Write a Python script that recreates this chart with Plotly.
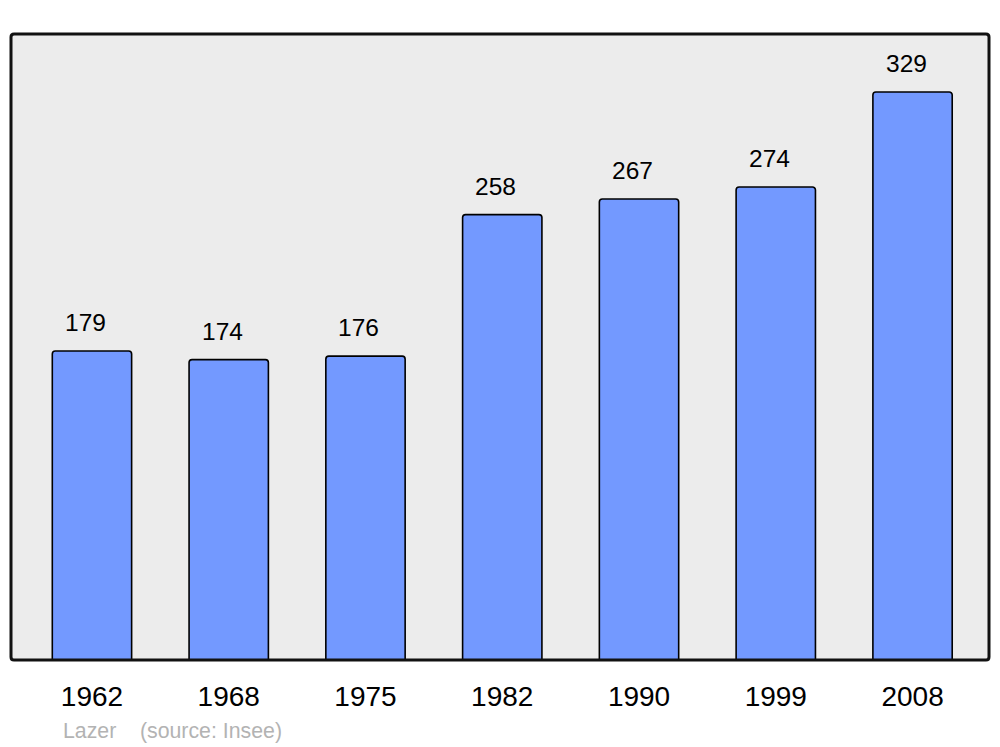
import plotly.graph_objects as go

years = ["1962", "1968", "1975", "1982", "1990", "1999", "2008"]
population = [179, 174, 176, 258, 267, 274, 329]

W, H = 1000, 747
L, R, T, B = 11, 11, 34, 87
pw, ph = W - L - R, H - T - B

fig = go.Figure()
fig.add_trace(go.Bar(
    x=years, y=population,
    width=0.58,
    marker=dict(color="#7399ff", line=dict(color="#000000", width=1.6), cornerradius=3),
    hoverinfo="skip",
))

for i, v in enumerate(population):
    fig.add_annotation(x=i, y=v, text=str(v), showarrow=False,
                       xref="x", yref="y",
                       yanchor="bottom", yshift=13, xshift=-6.5,
                       font=dict(family="Liberation Sans, Arial", size=24.5, color="#000000"))

# rounded frame
r = 3
rx, ry = r / pw, r / ph
path = (f"M {rx},0 L {1-rx},0 Q 1,0 1,{ry} L 1,{1-ry} Q 1,1 {1-rx},1 "
        f"L {rx},1 Q 0,1 0,{1-ry} L 0,{ry} Q 0,0 {rx},0 Z")
fig.add_shape(type="path", path=path, xref="paper", yref="paper",
              line=dict(color="#111111", width=3), layer="above")

fig.add_annotation(xref="paper", yref="paper", x=(61 - L) / pw, y=-(731 - 660) / ph,
                   xanchor="left", yanchor="middle", showarrow=False,
                   text="Lazer&nbsp;&nbsp;&nbsp;&nbsp;(source: Insee)",
                   font=dict(family="Liberation Sans, Arial", size=21.3, color="#b3b3b3"))

fig.update_layout(
    width=W, height=H,
    margin=dict(l=L, r=R, t=T, b=B, pad=0),
    paper_bgcolor="#ffffff", plot_bgcolor="#ececec",
    showlegend=False,
    xaxis=dict(type="category", range=[-0.592, 6.559], showgrid=False, zeroline=False, showline=False,
               ticks="", ticklabelstandoff=17,
               tickfont=dict(family="Liberation Sans, Arial", size=28, color="#000000")),
    yaxis=dict(range=[0, 362.6], showgrid=False, zeroline=False, showline=False,
               showticklabels=False, ticks=""),
)

fig.write_html("out.html", config={"displayModeBar": False},
               post_script="document.body.style.margin='0';")
